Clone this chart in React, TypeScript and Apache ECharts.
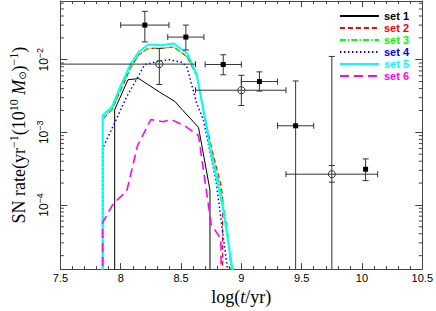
import React, { useEffect, useRef } from "react";
import * as echarts from "echarts";

// ---- model curves: [log(t/yr), SN rate] ----
const setNames = ["set 1", "set 2", "set 3", "set 4", "set 5", "set 6"];
const setColors = ["#000000", "#ff0000", "#00ff00", "#0000ff", "#00ffff", "#ff00ff"];

const set1 = [
  [7.95, 1e-6], [7.95, 2.05e-3], [8.06, 5.3e-3], [8.15, 5.5e-3], [8.32, 3.6e-3],
  [8.45, 2.65e-3], [8.51, 2.05e-3], [8.645, 1.17e-3], [8.74, 1.6e-4], [8.74, 1e-6],
];
const set2 = [
  [7.85, 1e-6], [7.85, 1.5e-3], [7.93, 2.1e-3], [8.0, 3.8e-3], [8.08, 7.6e-3],
  [8.15, 1.17e-2], [8.23, 1.43e-2], [8.34, 1.43e-2], [8.44, 1.5e-2], [8.55, 1.1e-2],
  [8.63, 6.0e-3], [8.71, 1.3e-3], [8.76, 5.5e-4], [8.83, 1.9e-4], [8.845, 1.3e-4], [8.845, 1e-6],
];
const set3 = [
  [7.85, 1e-6], [7.85, 1.52e-3], [7.93, 2.1e-3], [8.0, 3.9e-3], [8.08, 7.7e-3],
  [8.15, 1.18e-2], [8.23, 1.44e-2], [8.34, 1.44e-2], [8.44, 1.5e-2], [8.55, 1.1e-2],
  [8.63, 6.1e-3], [8.71, 1.25e-3], [8.76, 5.2e-4], [8.845, 1.17e-4], [8.885, 4.7e-5], [8.915, 1.2e-5],
];
const set4 = [
  [7.85, 1e-6], [7.85, 6.0e-4], [7.95, 1.35e-3], [8.05, 3.1e-3], [8.14, 5.7e-3],
  [8.2, 8.6e-3], [8.31, 9.5e-3], [8.4, 1.0e-2], [8.51, 9.2e-3], [8.55, 7.8e-3],
  [8.63, 2.5e-3], [8.685, 1.5e-3], [8.79, 2.15e-4], [8.885, 1.3e-5],
];
const set5 = [
  [7.85, 1e-6], [7.85, 1.71e-3], [7.93, 2.27e-3], [8.0, 4.4e-3], [8.08, 8.6e-3],
  [8.15, 1.3e-2], [8.23, 1.62e-2], [8.34, 1.58e-2], [8.44, 1.67e-2], [8.55, 1.23e-2],
  [8.63, 6.3e-3], [8.71, 1.23e-3], [8.74, 6.0e-4], [8.845, 9.5e-5], [8.93, 1.2e-5],
];
const set6 = [
  [7.85, 1e-6], [7.85, 5.7e-5], [7.94, 1.05e-4], [8.05, 1.55e-4], [8.14, 6.6e-4],
  [8.25, 1.5e-3], [8.35, 1.4e-3], [8.42, 1.5e-3], [8.53, 1.23e-3], [8.645, 9.0e-4],
  [8.75, 5.4e-5], [8.83, 3.4e-5], [8.84, 1e-6],
];
const sets = [set1, set2, set3, set4, set5, set6];

// ---- observations: filled squares ----
const squareT = [8.2, 8.54, 8.85, 9.15, 9.45, 10.03];
const squareTErr = [0.2, 0.15, 0.15, 0.15, 0.15, 0];
const squareRate = [0.030, 0.0205, 0.0086, 0.0050, 0.00123, 3.1e-4];
const squareRateLow = [0.0176, 0.0136, 0.0062, 0.0037, 1e-7, 2.16e-4];
const squareRateHigh = [0.0464, 0.030, 0.0117, 0.0068, 0.0051, 4.3e-4];

// ---- observations: open circles ----
const circleT = [8.32, 9.0, 9.75];
const circleTLow = [7.2, 8.62, 9.37];
const circleTHigh = [8.62, 9.37, 10.13];
const circleRate = [0.0087, 0.0038, 2.65e-4];
const circleRateLow = [0.00456, 0.00234, 1e-7];
const circleRateHigh = [0.0143, 0.0061, 0.0111];
const circleInnerLow = [NaN, NaN, 2.06e-4];
const circleInnerHigh = [NaN, NaN, 3.49e-4];

// ---- axes ----
const xMin = 7.5;
const xMax = 10.5;
const xTickLabels = ["7.5", "8", "8.5", "9", "9.5", "10", "10.5"];
const yMin = 1.306e-5;
const yMax = 0.0644;

const frameColor = "#444";
const barColor = "#333";

function renderErrorBar(params: any, api: any) {
  const x = api.value(0), y = api.value(1);
  const xl = api.value(2), xh = api.value(3);
  const yl = api.value(4), yh = api.value(5);
  const il = api.value(6), ih = api.value(7);
  const kind = api.value(8);
  const cap = 3;
  const st = { stroke: barColor, lineWidth: 1, fill: "none" };
  const children: any[] = [];
  const ln = (x1: number, y1: number, x2: number, y2: number) =>
    children.push({ type: "line", shape: { x1, y1, x2, y2 }, style: st });
  const c = api.coord([x, y]);
  const pl = api.coord([x, yl]);
  const ph = api.coord([x, yh]);
  ln(pl[0], pl[1], ph[0], ph[1]);
  ln(pl[0] - cap, pl[1], pl[0] + cap, pl[1]);
  ln(ph[0] - cap, ph[1], ph[0] + cap, ph[1]);
  if (!isNaN(il) && !isNaN(ih)) {
    const a = api.coord([x, il]);
    const b = api.coord([x, ih]);
    ln(a[0] - cap, a[1], a[0] + cap, a[1]);
    ln(b[0] - cap, b[1], b[0] + cap, b[1]);
  }
  if (xh > xl) {
    const ql = api.coord([xl, y]);
    const qh = api.coord([xh, y]);
    ln(ql[0], ql[1], qh[0], qh[1]);
    ln(ql[0], ql[1] - cap, ql[0], ql[1] + cap);
    ln(qh[0], qh[1] - cap, qh[0], qh[1] + cap);
  }
  if (kind === 1) {
    children.push({
      type: "rect",
      shape: { x: c[0] - 2.5, y: c[1] - 2.5, width: 5, height: 5 },
      style: { fill: "#000" },
    });
  } else {
    children.push({
      type: "circle",
      shape: { cx: c[0], cy: c[1], r: 3.6 },
      style: { fill: "none", stroke: barColor, lineWidth: 1 },
    });
  }
  return { type: "group", children };
}

function renderMinorTick(params: any, api: any) {
  const v = api.value(1);
  const l = api.coord([xMin, v]);
  const r = api.coord([xMax, v]);
  const st = { stroke: frameColor, lineWidth: 1 };
  return {
    type: "group",
    children: [
      { type: "line", shape: { x1: l[0], y1: l[1], x2: l[0] + 3.5, y2: l[1] }, style: st },
      { type: "line", shape: { x1: r[0], y1: r[1], x2: r[0] - 3.5, y2: r[1] }, style: st },
    ],
  };
}

export default function App() {
  const ref = useRef<HTMLDivElement>(null);
  useEffect(() => {
    if (!ref.current) return;
    const chart = echarts.init(ref.current, null, { renderer: "svg" });

    const errData: any[] = [];
    squareT.forEach((t, i) =>
      errData.push([t, squareRate[i], t - squareTErr[i], t + squareTErr[i], squareRateLow[i], squareRateHigh[i], NaN, NaN, 1])
    );
    circleT.forEach((t, i) =>
      errData.push([t, circleRate[i], circleTLow[i], circleTHigh[i], circleRateLow[i], circleRateHigh[i], circleInnerLow[i], circleInnerHigh[i], 0])
    );

    const minorTicks: any[] = [];
    for (let e = -5; e <= -1; e++) {
      for (let k = 2; k <= 9; k++) {
        const v = k * Math.pow(10, e);
        if (v > yMin && v < yMax) minorTicks.push([xMin, v]);
      }
    }

    const widths = [1, 1.2, 1.2, 1.5, 2, 1.6];
    const dashes: any[] = ["solid", [5, 3], [6, 2, 1.5, 2], [1.5, 2.5], "solid", [9, 5]];

    const sup = { fontFamily: "Liberation Serif", fontSize: 12, color: "#000", padding: [0, 0, 9, 0] };
    const serif = { fontFamily: "Liberation Serif", fontSize: 18, color: "#000" };

    const option: any = {
      animation: false,
      grid: { left: 51.5, right: 8.5, top: 1, bottom: 33, containLabel: false },
      legend: {
        orient: "vertical",
        right: 22,
        top: 5,
        itemWidth: 39,
        itemHeight: 12,
        itemGap: 0,
        selectedMode: false,
        itemStyle: { opacity: 0 },
        textStyle: { fontFamily: "Liberation Sans", fontWeight: "bold", fontSize: 11, lineHeight: 12 },
        data: setNames.map((n, i) => ({ name: n, textStyle: { color: setColors[i] } })),
      },
      xAxis: [
        {
          type: "value",
          min: xMin,
          max: xMax,
          interval: 0.5,
          position: "bottom",
          axisLine: { onZero: false, lineStyle: { color: frameColor, width: 1 } },
          axisTick: { inside: true, length: 6, lineStyle: { color: frameColor } },
          minorTick: { show: true, splitNumber: 5, length: 3, lineStyle: { color: frameColor } },
          splitLine: { show: false },
          minorSplitLine: { show: false },
          axisLabel: {
            fontFamily: "Liberation Sans",
            fontSize: 11,
            color: "#000",
            margin: 3,
            formatter: (_v: number, i: number) => xTickLabels[i] ?? "",
          },
          name: "{n|log(}{i|t}{n|/yr)}",
          nameLocation: "middle",
          nameGap: 17,
          nameTextStyle: {
            rich: {
              n: { ...serif, fontSize: 18 },
              i: { ...serif, fontSize: 18, fontStyle: "italic" },
            },
          },
        },
        {
          type: "value",
          min: xMin,
          max: xMax,
          interval: 0.5,
          position: "top",
          axisLine: { onZero: false, lineStyle: { color: frameColor, width: 1 } },
          axisTick: { inside: true, length: 6, lineStyle: { color: frameColor } },
          minorTick: { show: true, splitNumber: 5, length: 3, lineStyle: { color: frameColor } },
          splitLine: { show: false },
          axisLabel: { show: false },
        },
      ],
      yAxis: [
        {
          type: "log",
          logBase: 10,
          min: yMin,
          max: yMax,
          position: "left",
          axisLine: { onZero: false, lineStyle: { color: frameColor, width: 1 } },
          axisTick: { inside: true, length: 7, lineStyle: { color: frameColor } },
          splitLine: { show: false },
          axisLabel: {
            rotate: 90,
            margin: 8,
            showMinLabel: false,
            showMaxLabel: false,
            formatter: (v: number) => {
              const lg = Math.log10(v);
              const e = Math.round(lg);
              if (Math.abs(lg - e) > 1e-6) return "";
              return `{b|10}{s|−${Math.abs(e)}}`;
            },
            rich: {
              b: { fontFamily: "Liberation Sans", fontSize: 12, color: "#000" },
              s: { fontFamily: "Liberation Sans", fontSize: 9, color: "#000", padding: [0, 0, 8, 0] },
            },
          },
          name: "{n|SN rate(yr}{s|−1}{n|(10}{s|10}{n| }{i|M}{o|⊙}{n|)}{s|−1}{n|)}",
          nameLocation: "middle",
          nameRotate: 90,
          nameGap: 28,
          nameTextStyle: {
            rich: {
              n: serif,
              i: { ...serif, fontStyle: "italic" },
              s: sup,
              o: { fontFamily: "DejaVu Sans", fontSize: 10, color: "#000", padding: [7, 0, 0, 0] },
            },
          },
        },
        {
          type: "log",
          logBase: 10,
          min: yMin,
          max: yMax,
          position: "right",
          axisLine: { onZero: false, lineStyle: { color: frameColor, width: 1 } },
          axisTick: { inside: true, length: 7, lineStyle: { color: frameColor } },
          splitLine: { show: false },
          axisLabel: { show: false },
        },
      ],
      series: [
        {
          type: "custom",
          name: "minor",
          renderItem: renderMinorTick,
          data: minorTicks,
          encode: { x: 0, y: 1 },
          silent: true,
          z: 1,
        },
        {
          type: "custom",
          name: "obs",
          renderItem: renderErrorBar,
          data: errData,
          encode: { x: 0, y: 1 },
          clip: true,
          silent: true,
          z: 3,
        },
        ...sets.map((d, i) => ({
          name: setNames[i],
          type: "line",
          data: d,
          symbol: "none",
          showSymbol: false,
          clip: true,
          silent: true,
          z: 2,
          itemStyle: { color: setColors[i] },
          lineStyle: { color: setColors[i], width: widths[i], type: dashes[i], cap: "butt" },
        })),
      ],
    };
    chart.setOption(option);
    return () => chart.dispose();
  }, []);
  return <div ref={ref} style={{ width: 436, height: 311, position: "absolute", left: 0, top: 0 }} />;
}
